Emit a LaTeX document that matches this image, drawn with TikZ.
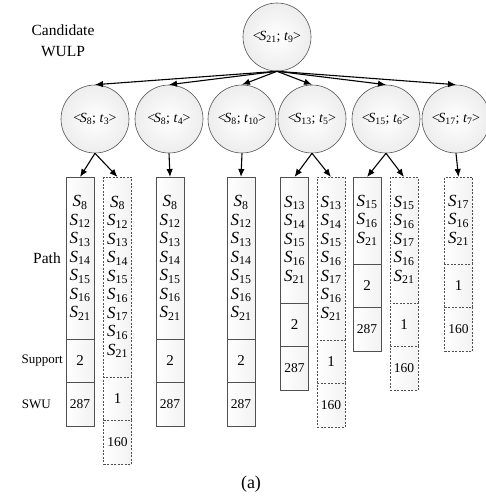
\documentclass[tikz,border=0pt]{standalone}
\usepackage{fontspec}
\setmainfont{Liberation Serif}
\usetikzlibrary{arrows.meta,positioning}
\definecolor{edgegray}{HTML}{505050}
\newcommand{\Sn}[1]{\textit{S}\textsubscript{#1}}
\newcommand{\Tn}[1]{\textit{t}\textsubscript{#1}}
\newcommand{\pair}[2]{<\kern-1.5pt\Sn{#1}; \Tn{#2}\kern-0.5pt>}

\begin{document}
\begin{tikzpicture}[x=1pt,y=-1pt,
  cand/.style={circle,draw=edgegray,line width=0.6pt,minimum size=68pt,inner sep=0pt,
               inner color=white,outer color=gray!14,font=\fontsize{14}{16}\selectfont},
  cell/.style={rectangle,draw=edgegray,line width=0.7pt,outer sep=0pt,inner sep=0pt,
               minimum width=28pt,left color=white,right color=gray!10},
  dcell/.style={cell,dash pattern=on 2pt off 1.5pt},
  pathcell/.style={minimum height=#1,align=center,font=\fontsize{17}{18.5}\selectfont},
  supcell/.style={minimum height=43pt,font=\fontsize{15}{17}\selectfont},
  swucell/.style={minimum height=44pt,font=\fontsize{13.5}{15}\selectfont},
  lbl/.style={inner sep=0pt,align=center,font=\fontsize{15.5}{21}\selectfont},
  sml/.style={inner sep=0pt,font=\fontsize{13}{15}\selectfont},
  arr/.style={-{Latex[length=8pt,width=6.5pt]},line width=1.1pt,black}
]
  \useasboundingbox (0,0) rectangle (486,501);

  % candidate and its extensions
  \node[cand] (root) at (277,37) {\pair{21}{9}};
  \node[lbl] (cw) at (63,41) {Candidate\\WULP};
  \node[cand] (c1) at (95,119) {\pair{8}{3}};
  \node[cand] (c2) at (169,119) {\pair{8}{4}};
  \node[cand] (c3) at (242,119) {\pair{8}{10}};
  \node[cand] (c4) at (312,119) {\pair{13}{5}};
  \node[cand] (c5) at (386,119) {\pair{15}{6}};
  \node[cand] (c6) at (456,119) {\pair{17}{7}};

  \draw[arr] (root.south) -- (c1.north);
  \draw[arr] (root.south) -- (c2.north);
  \draw[arr] (root.south) -- (c3.north);
  \draw[arr] (root.south) -- (c4.north);
  \draw[arr] (root.south) -- (c5.north);
  \draw[arr] (root.south) -- (c6.north);

  % path / support / SWU columns
  \node[cell,pathcell=162pt,anchor=north] (p1) at (80,177)
    {\Sn{8}\\\Sn{12}\\\Sn{13}\\\Sn{14}\\\Sn{15}\\\Sn{16}\\\Sn{21}};
  \node[cell,supcell,below=0pt of p1] (s1) {2};
  \node[cell,swucell,below=0pt of s1] (w1) {287};

  \node[dcell,pathcell=200pt,anchor=north] (p2) at (117.5,177)
    {\Sn{8}\\\Sn{12}\\\Sn{13}\\\Sn{14}\\\Sn{15}\\\Sn{16}\\\Sn{17}\\\Sn{16}\\\Sn{21}};
  \node[dcell,supcell,below=0pt of p2] (s2) {1};
  \node[dcell,swucell,below=0pt of s2] (w2) {160};

  \node[cell,pathcell=162pt,anchor=north] (p3) at (170,177)
    {\Sn{8}\\\Sn{12}\\\Sn{13}\\\Sn{14}\\\Sn{15}\\\Sn{16}\\\Sn{21}};
  \node[cell,supcell,below=0pt of p3] (s3) {2};
  \node[cell,swucell,below=0pt of s3] (w3) {287};

  \node[cell,pathcell=162pt,anchor=north] (p4) at (241,177)
    {\Sn{8}\\\Sn{12}\\\Sn{13}\\\Sn{14}\\\Sn{15}\\\Sn{16}\\\Sn{21}};
  \node[cell,supcell,below=0pt of p4] (s4) {2};
  \node[cell,swucell,below=0pt of s4] (w4) {287};

  \node[cell,pathcell=126pt,anchor=north] (p5) at (294.5,177)
    {\Sn{13}\\\Sn{14}\\\Sn{15}\\\Sn{16}\\\Sn{21}};
  \node[cell,supcell,below=0pt of p5] (s5) {2};
  \node[cell,swucell,below=0pt of s5] (w5) {287};

  \node[dcell,pathcell=163pt,anchor=north] (p6) at (331,177)
    {\Sn{13}\\\Sn{14}\\\Sn{15}\\\Sn{16}\\\Sn{17}\\\Sn{16}\\\Sn{21}};
  \node[dcell,supcell,below=0pt of p6] (s6) {1};
  \node[dcell,swucell,below=0pt of s6] (w6) {160};

  \node[cell,pathcell=87pt,anchor=north] (p7) at (367,177)
    {\Sn{15}\\\Sn{16}\\\Sn{21}};
  \node[cell,supcell,below=0pt of p7] (s7) {2};
  \node[cell,swucell,below=0pt of s7] (w7) {287};

  \node[dcell,pathcell=126pt,anchor=north] (p8) at (404,177)
    {\Sn{15}\\\Sn{16}\\\Sn{17}\\\Sn{16}\\\Sn{21}};
  \node[dcell,supcell,below=0pt of p8] (s8) {1};
  \node[dcell,swucell,below=0pt of s8] (w8) {160};

  \node[dcell,pathcell=87pt,anchor=north] (p9) at (458.5,177)
    {\Sn{17}\\\Sn{16}\\\Sn{21}};
  \node[dcell,supcell,below=0pt of p9] (s9) {1};
  \node[dcell,swucell,below=0pt of s9] (w9) {160};

  \draw[arr] (c1.south) -- (p1.north);
  \draw[arr] (c1.south) -- (p2.north);
  \draw[arr] (c2.south) -- (p3.north);
  \draw[arr] (c3.south) -- (p4.north);
  \draw[arr] (c4.south) -- (p5.north);
  \draw[arr] (c4.south) -- (p6.north);
  \draw[arr] (c5.south) -- (p7.north);
  \draw[arr] (c5.south) -- (p8.north);
  \draw[arr] (c6.south) -- (p9.north);

  % row labels
  \node[lbl,left=5pt of p1] (lpath) {Path};
  \node[sml,left=3pt of s1] (lsup) {Support};
  \node[sml,left=15pt of w1] (lswu) {SWU};

  \node[lbl,font=\fontsize{18}{20}\selectfont] (cap) at (251,484) {(a)};
\end{tikzpicture}
\end{document}
